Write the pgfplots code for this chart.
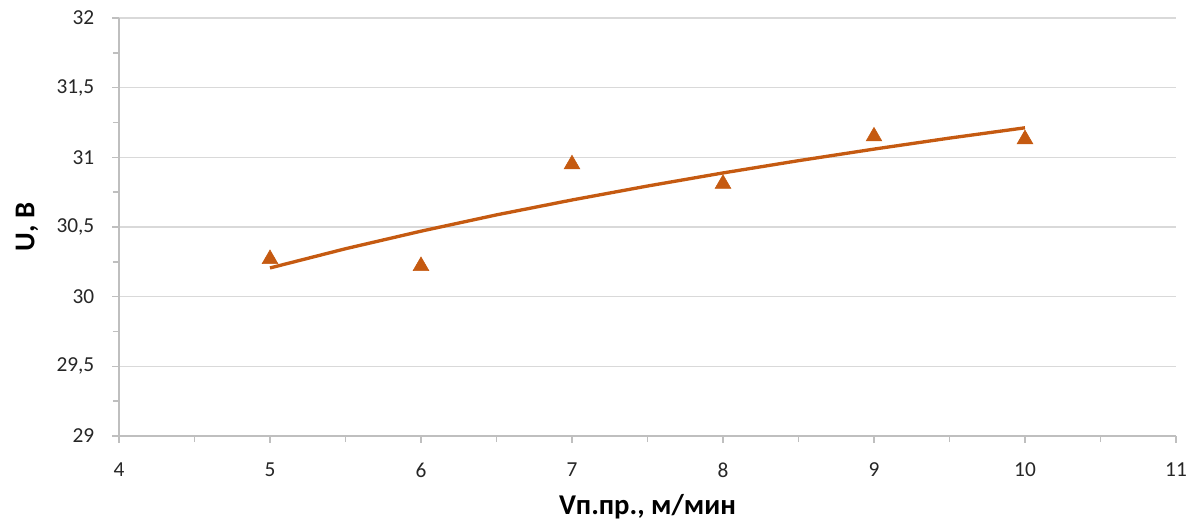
\documentclass[border=0pt]{standalone}
\usepackage{pgfplots}
\pgfplotsset{compat=1.18}
\usepackage{fontspec}
\setmainfont{Carlito}
\definecolor{ser}{HTML}{C55A11}
\definecolor{gridc}{HTML}{D9D9D9}
\definecolor{axc}{HTML}{BFBFBF}
\definecolor{txt}{HTML}{262626}
\begin{document}
\begin{tikzpicture}[x=0.75pt,y=0.75pt]
\path[use as bounding box] (-119,-89) rectangle (1078,436);
\begin{axis}[
  at={(0,0)}, anchor=south west,
  scale only axis, width=792.75pt, height=313.5pt,
  xmin=4, xmax=11, ymin=29, ymax=32,
  xtick={4,5,...,11}, ytick={29,29.5,...,32},
  minor xtick={4.5,5.5,...,10.5}, minor ytick={29.25,29.75,...,31.75},
  ymajorgrids, major grid style={gridc, line width=1.1pt},
  axis line style={axc, line width=1.1pt},
  axis x line*=bottom, axis y line*=left,
  tick style={axc, line width=1.1pt},
  major tick length=5pt, minor tick length=4.5pt,
  tick align=outside,
  xtick pos=bottom, ytick pos=left,
  tick label style={font=\fontsize{16}{19}\selectfont, text=txt},
  /pgf/number format/assume math mode=true,
  /pgf/number format/use comma,
  yticklabel style={/pgf/number format/fixed, /pgf/number format/precision=1, xshift=-10pt},
  xticklabel style={yshift=-11.5pt},
  xlabel={\textbf{Vп.пр., м/мин}},
  ylabel={\textbf{U, B}},
  label style={font=\fontsize{21.5}{24}\selectfont, text=black},
  xlabel style={at={(axis description cs:0.5,0)}, anchor=center, yshift=-53pt},
  ylabel style={at={(axis description cs:0,0.5)}, anchor=center, yshift=69pt},
  clip=false,
]
\addplot[ser, line width=2.5pt, no marks] coordinates {
(5,30.206) (5.5,30.344) (6,30.470) (6.5,30.587) (7,30.694) (7.5,30.794)
(8,30.888) (8.5,30.976) (9,31.059) (9.5,31.138) (10,31.212)};
\addplot[only marks, mark=triangle*, mark size=6.8pt, mark options={fill=ser, draw=ser}] coordinates {
(5,30.27) (6,30.22) (7,30.95) (8,30.81) (9,31.15) (10,31.13)};
\end{axis}
\end{tikzpicture}
\end{document}
